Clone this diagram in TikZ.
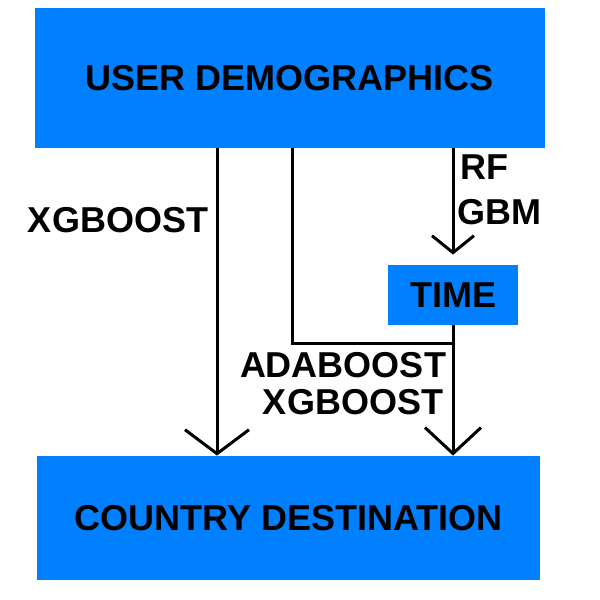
\documentclass[tikz,border=0pt]{standalone}
\usepackage{fontspec}
\setmainfont{Liberation Sans}
\usetikzlibrary{arrows.meta}
\definecolor{boxblue}{RGB}{0,128,255}

\begin{document}
\begin{tikzpicture}[x=0.5pt,y=-0.5pt]
   \tikzset{BoxStyle/.style={fill=boxblue, inner sep=0pt, font=\fontsize{18}{21}\selectfont\bfseries}}
   \tikzset{LabelStyle/.style={inner sep=0pt, font=\fontsize{18}{21}\selectfont\bfseries}}
   \tikzset{LineStyle/.style={line width=1.5pt}}
   \tikzset{EdgeStyle/.style={LineStyle, -{Straight Barb[length=12pt,width=32pt]}}}
   \useasboundingbox (0,0) rectangle (600,600);
   \node[BoxStyle, minimum width=255pt, minimum height=70pt] (demo) at (290,78) {USER DEMOGRAPHICS};
   \node[BoxStyle, minimum width=251.5pt, minimum height=62pt] (dest) at (288.5,518) {COUNTRY DESTINATION};
   \node[BoxStyle, minimum width=65pt, minimum height=30pt] (time) at (453,295) {TIME};
   \coordinate (left) at (217,0);
   \coordinate (split) at (292,343);
   \coordinate (join) at (455,343);
   \node[LabelStyle] (xgb) at (118,220) {XGBOOST};
   \node[LabelStyle] (rf) at (484,167) {RF};
   \node[LabelStyle] (gbm) at (499,212) {GBM};
   \node[LabelStyle] (ada) at (343,365) {ADABOOST};
   \node[LabelStyle] (xgbb) at (353,402) {XGBOOST};
   \draw[EdgeStyle] (demo.south -| left) -- (dest.north -| left);
   \draw[LineStyle, -{Straight Barb[length=8.5pt,width=21pt]}, shorten >=5pt] (demo.south -| time.north) -- (time.north);
   \draw[LineStyle, -{Straight Barb[length=13pt,width=28pt]}] (time.south) -- (dest.north -| time.south);
   \draw[LineStyle] (demo.south -| split) -- (split) -- (join);
\end{tikzpicture}
\end{document}
